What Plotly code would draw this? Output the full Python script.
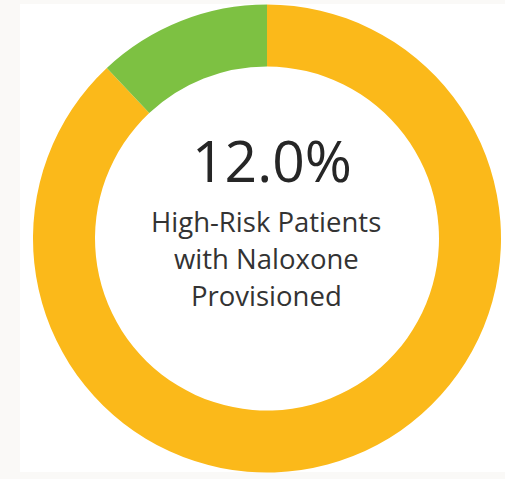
import plotly.graph_objects as go

labels = ["Not Provisioned", "Naloxone Provisioned"]
values = [88.0, 12.0]
colors = ["#FBB91A", "#7DC142"]
center_value = "12.0%"
center_caption = ["High-Risk Patients", "with Naloxone", "Provisioned"]

W, H = 505, 479

fig = go.Figure(go.Pie(
    labels=labels, values=values, hole=0.735,
    sort=False, direction="clockwise", rotation=0,
    marker=dict(colors=colors, line=dict(width=0)),
    textinfo="none", hoverinfo="label+percent",
    domain=dict(x=[33/W, 501/W], y=[1-473/H, 1-4/H]),
    showlegend=False,
))

fig.add_shape(type="rect", xref="paper", yref="paper",
              x0=20/W, x1=1, y0=1-472/H, y1=1-4/H,
              fillcolor="white", line=dict(width=0), layer="below")

fig.add_annotation(x=272/W, y=1-160/H, xref="paper", yref="paper",
                   text=center_value, showarrow=False,
                   font=dict(family="Open Sans", size=57, color="#262626"))
for i, line in enumerate(center_caption):
    fig.add_annotation(x=266/W, y=1-(221+37*i)/H, xref="paper", yref="paper",
                       text=line, showarrow=False,
                       font=dict(family="Open Sans", size=27.5, color="#333333"))

fig.update_layout(width=W, height=H, margin=dict(l=0, r=0, t=0, b=0),
                  paper_bgcolor="#FAF9F7", plot_bgcolor="#FAF9F7")
fig.write_html("out.html")
